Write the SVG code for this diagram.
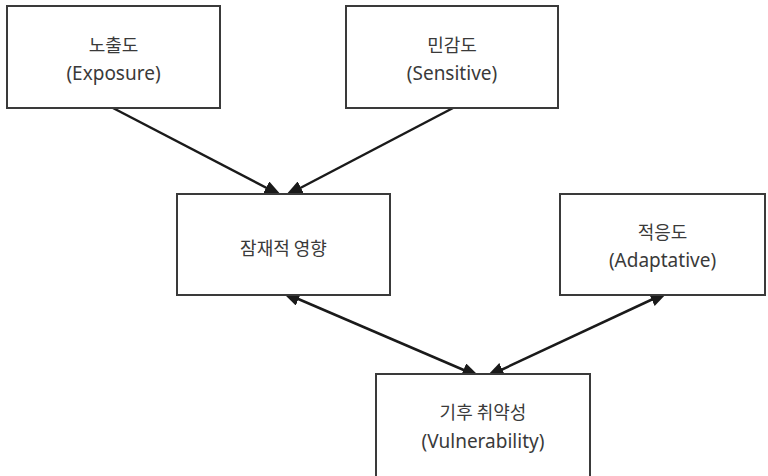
<svg xmlns="http://www.w3.org/2000/svg" width="768" height="476" viewBox="0 0 768 476">
<style>
  .box{fill:#fff;stroke:#3a3a3a;stroke-width:2}
  .ko{font-family:"Noto Sans CJK KR","Noto Sans",sans-serif;font-size:18px;fill:#3a3a3a;text-anchor:middle}
  .en{font-family:"Noto Sans","Noto Sans CJK KR",sans-serif;font-size:19px;fill:#3a3a3a;text-anchor:middle}
  .con{stroke:#1a1a1a;stroke-width:2.5;fill:none}
</style>
<defs>
  <marker id="ah" viewBox="0 0 18 14" refX="18" refY="7" markerWidth="18" markerHeight="14" markerUnits="userSpaceOnUse" orient="auto-start-reverse">
    <path d="M0,0 L18,7 L0,14 z" fill="#1a1a1a"/>
  </marker>
</defs>
<rect width="768" height="476" fill="#fff"/>
<g id="connectors">
  <line class="con" x1="113" y1="108" x2="282" y2="196" marker-end="url(#ah)"/>
  <line class="con" x1="453" y1="108" x2="285" y2="196" marker-end="url(#ah)"/>
  <line class="con" x1="282" y1="292" x2="480" y2="377" marker-start="url(#ah)" marker-end="url(#ah)"/>
  <line class="con" x1="486" y1="377" x2="668" y2="292" marker-start="url(#ah)" marker-end="url(#ah)"/>
</g>
<g id="exposure">
  <rect class="box" x="7" y="6" width="213" height="102"/>
  <text class="ko" x="113.5" y="52">노출도</text>
  <text class="en" x="113.5" y="80">(Exposure)</text>
</g>
<g id="sensitive">
  <rect class="box" x="346" y="6" width="212" height="102"/>
  <text class="ko" x="452" y="52">민감도</text>
  <text class="en" x="452" y="80">(Sensitive)</text>
</g>
<g id="potential-impact">
  <rect class="box" x="177" y="194" width="213" height="101"/>
  <text class="ko" x="283.5" y="255">잠재적 영향</text>
</g>
<g id="adaptative">
  <rect class="box" x="560" y="194" width="205" height="101"/>
  <text class="ko" x="662.5" y="239">적응도</text>
  <text class="en" x="662.5" y="267">(Adaptative)</text>
</g>
<g id="vulnerability">
  <rect class="box" x="376" y="374" width="214" height="110"/>
  <text class="ko" x="483" y="419">기후 취약성</text>
  <text class="en" x="483" y="448">(Vulnerability)</text>
</g>
</svg>
